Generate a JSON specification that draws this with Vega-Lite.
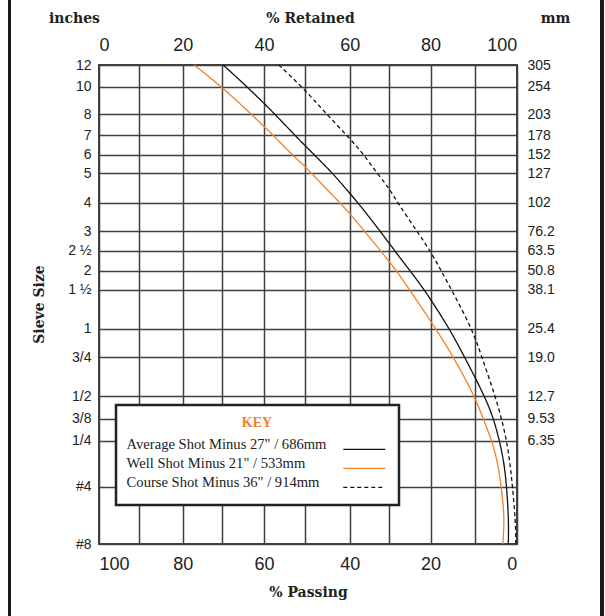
{
  "$schema": "https://vega.github.io/schema/vega-lite/v6.json",
  "width": 418,
  "height": 479,
  "autosize": {"type": "none"},
  "padding": {"left": 99, "top": 65, "right": 88, "bottom": 72},
  "background": "white",
  "title": {"text": "Sieve Size", "orient": "left", "anchor": "middle", "frame": "group", "font": "DejaVu Serif", "fontSize": 14, "fontWeight": "bold", "color": "#222", "offset": -39},
  "data": {"values": [
    {"s": "Well Shot Minus 21\" / 533mm", "mm": 305, "p": 77.1},
    {"s": "Well Shot Minus 21\" / 533mm", "mm": 252.4, "p": 70.0},
    {"s": "Well Shot Minus 21\" / 533mm", "mm": 203, "p": 63.0},
    {"s": "Well Shot Minus 21\" / 533mm", "mm": 187.7, "p": 60.0},
    {"s": "Well Shot Minus 21\" / 533mm", "mm": 178, "p": 57.8},
    {"s": "Well Shot Minus 21\" / 533mm", "mm": 152, "p": 53.2},
    {"s": "Well Shot Minus 21\" / 533mm", "mm": 135.4, "p": 50.0},
    {"s": "Well Shot Minus 21\" / 533mm", "mm": 127, "p": 48.6},
    {"s": "Well Shot Minus 21\" / 533mm", "mm": 102, "p": 42.2},
    {"s": "Well Shot Minus 21\" / 533mm", "mm": 91.5, "p": 40.0},
    {"s": "Well Shot Minus 21\" / 533mm", "mm": 76.2, "p": 36.3},
    {"s": "Well Shot Minus 21\" / 533mm", "mm": 63.5, "p": 32.2},
    {"s": "Well Shot Minus 21\" / 533mm", "mm": 56.2, "p": 30.0},
    {"s": "Well Shot Minus 21\" / 533mm", "mm": 50.8, "p": 28.3},
    {"s": "Well Shot Minus 21\" / 533mm", "mm": 38.1, "p": 25.1},
    {"s": "Well Shot Minus 21\" / 533mm", "mm": 25.4, "p": 18.8},
    {"s": "Well Shot Minus 21\" / 533mm", "mm": 19.0, "p": 14.8},
    {"s": "Well Shot Minus 21\" / 533mm", "mm": 12.7, "p": 10.0},
    {"s": "Well Shot Minus 21\" / 533mm", "mm": 9.53, "p": 8.0},
    {"s": "Well Shot Minus 21\" / 533mm", "mm": 6.35, "p": 5.9},
    {"s": "Well Shot Minus 21\" / 533mm", "mm": 5.51, "p": 4.5},
    {"s": "Well Shot Minus 21\" / 533mm", "mm": 4.75, "p": 3.7},
    {"s": "Well Shot Minus 21\" / 533mm", "mm": 3.44, "p": 3.0},
    {"s": "Well Shot Minus 21\" / 533mm", "mm": 2.8, "p": 3.1},
    {"s": "Well Shot Minus 21\" / 533mm", "mm": 2.36, "p": 3.3},
    {"s": "Average Shot Minus 27\" / 686mm", "mm": 305, "p": 69.8},
    {"s": "Average Shot Minus 27\" / 686mm", "mm": 254, "p": 64.1},
    {"s": "Average Shot Minus 27\" / 686mm", "mm": 203, "p": 57.3},
    {"s": "Average Shot Minus 27\" / 686mm", "mm": 178, "p": 52.6},
    {"s": "Average Shot Minus 27\" / 686mm", "mm": 152, "p": 48.0},
    {"s": "Average Shot Minus 27\" / 686mm", "mm": 127, "p": 43.8},
    {"s": "Average Shot Minus 27\" / 686mm", "mm": 109.5, "p": 40.0},
    {"s": "Average Shot Minus 27\" / 686mm", "mm": 102, "p": 37.9},
    {"s": "Average Shot Minus 27\" / 686mm", "mm": 76.2, "p": 32.3},
    {"s": "Average Shot Minus 27\" / 686mm", "mm": 63.5, "p": 28.7},
    {"s": "Average Shot Minus 27\" / 686mm", "mm": 50.8, "p": 25.0},
    {"s": "Average Shot Minus 27\" / 686mm", "mm": 38.1, "p": 21.5},
    {"s": "Average Shot Minus 27\" / 686mm", "mm": 25.4, "p": 15.7},
    {"s": "Average Shot Minus 27\" / 686mm", "mm": 19.0, "p": 12.3},
    {"s": "Average Shot Minus 27\" / 686mm", "mm": 12.7, "p": 7.6},
    {"s": "Average Shot Minus 27\" / 686mm", "mm": 9.53, "p": 5.5},
    {"s": "Average Shot Minus 27\" / 686mm", "mm": 6.35, "p": 4.1},
    {"s": "Average Shot Minus 27\" / 686mm", "mm": 5.51, "p": 3.0},
    {"s": "Average Shot Minus 27\" / 686mm", "mm": 4.75, "p": 2.4},
    {"s": "Average Shot Minus 27\" / 686mm", "mm": 3.16, "p": 1.9},
    {"s": "Average Shot Minus 27\" / 686mm", "mm": 2.36, "p": 2.0},
    {"s": "Course Shot Minus 36\" / 914mm", "mm": 305, "p": 56.4},
    {"s": "Course Shot Minus 36\" / 914mm", "mm": 246.9, "p": 50.0},
    {"s": "Course Shot Minus 36\" / 914mm", "mm": 203, "p": 45.2},
    {"s": "Course Shot Minus 36\" / 914mm", "mm": 173.4, "p": 40.0},
    {"s": "Course Shot Minus 36\" / 914mm", "mm": 152, "p": 36.4},
    {"s": "Course Shot Minus 36\" / 914mm", "mm": 127, "p": 33.1},
    {"s": "Course Shot Minus 36\" / 914mm", "mm": 113.6, "p": 30.0},
    {"s": "Course Shot Minus 36\" / 914mm", "mm": 102, "p": 28.0},
    {"s": "Course Shot Minus 36\" / 914mm", "mm": 76.2, "p": 23.3},
    {"s": "Course Shot Minus 36\" / 914mm", "mm": 63.5, "p": 20.1},
    {"s": "Course Shot Minus 36\" / 914mm", "mm": 50.8, "p": 17.6},
    {"s": "Course Shot Minus 36\" / 914mm", "mm": 38.1, "p": 15.3},
    {"s": "Course Shot Minus 36\" / 914mm", "mm": 25.4, "p": 10.6},
    {"s": "Course Shot Minus 36\" / 914mm", "mm": 19.0, "p": 8.3},
    {"s": "Course Shot Minus 36\" / 914mm", "mm": 12.7, "p": 5.1},
    {"s": "Course Shot Minus 36\" / 914mm", "mm": 9.53, "p": 3.6},
    {"s": "Course Shot Minus 36\" / 914mm", "mm": 6.35, "p": 2.4},
    {"s": "Course Shot Minus 36\" / 914mm", "mm": 5.51, "p": 1.6},
    {"s": "Course Shot Minus 36\" / 914mm", "mm": 4.75, "p": 1.0},
    {"s": "Course Shot Minus 36\" / 914mm", "mm": 3.16, "p": 0.3},
    {"s": "Course Shot Minus 36\" / 914mm", "mm": 2.36, "p": 0.2}
  ]},
  "layer": [
    {
      "mark": {"type": "line", "interpolate": "basis", "strokeWidth": 1.3},
      "encoding": {
        "x": {
          "field": "p", "type": "quantitative",
          "scale": {
            "domain": [0, 10, 20, 30, 40, 50, 60, 70, 80, 90, 100],
            "range": [417.7, 375.8, 331.6, 290.3, 250.7, 206.3, 165, 123.3, 83.7, 40, 0],
            "nice": false, "zero": false
          },
          "axis": {
            "orient": "bottom",
            "values": [0, 10, 20, 30, 40, 50, 60, 70, 80, 90, 100],
            "labelExpr": "datum.value % 20 === 0 ? datum.label : ''",
            "labelFlush": true, "labelOverlap": false,
            "labelFontSize": 18, "labelPadding": 11, "labelColor": "#222",
            "ticks": false, "domain": false,
            "grid": true, "gridColor": "#404040", "gridWidth": 1.5, "gridOpacity": 1,
            "title": "% Passing", "titleX": 209, "titleY": 48,
            "titleFont": "DejaVu Serif", "titleFontSize": 14, "titleFontWeight": "bold",
            "titleAlign": "center", "titleBaseline": "middle", "titleColor": "#222"
          }
        },
        "y": {
          "field": "mm", "type": "quantitative",
          "scale": {
            "type": "log", "nice": false,
            "domain": [2.36, 4.75, 6.35, 9.53, 12.7, 19.0, 25.4, 38.1, 50.8, 63.5, 76.2, 102, 127, 152, 178, 203, 254, 305],
            "range": [479, 421.5, 375.8, 353.9, 331.4, 292.2, 263.8, 224.6, 205.7, 185.8, 166.1, 137.8, 108.3, 89.8, 70, 49.3, 21.5, 0]
          },
          "axis": {
            "orient": "left",
            "values": [2.36, 4.75, 6.35, 9.53, 12.7, 19.0, 25.4, 38.1, 50.8, 63.5, 76.2, 102, 127, 152, 178, 203, 254, 305],
            "labelExpr": "datum.value > 280 ? '12' : datum.value > 230 ? '10' : datum.value > 190 ? '8' : datum.value > 165 ? '7' : datum.value > 140 ? '6' : datum.value > 115 ? '5' : datum.value > 90 ? '4' : datum.value > 70 ? '3' : datum.value > 57 ? '2 ½' : datum.value > 45 ? '2' : datum.value > 30 ? '1 ½' : datum.value > 22 ? '1' : datum.value > 15 ? '3/4' : datum.value > 11 ? '1/2' : datum.value > 8 ? '3/8' : datum.value > 5.5 ? '1/4' : datum.value > 3.5 ? '#4' : '#8'",
            "labelOverlap": false, "labelFlush": false,
            "labelFontSize": 14, "labelPadding": 8, "labelColor": "#222",
            "ticks": false, "domain": false,
            "grid": true, "gridColor": "#404040", "gridWidth": 1.5, "gridOpacity": 1,
            "title": "inches", "titleAngle": 0, "titleX": -25, "titleY": -47,
            "titleFont": "DejaVu Serif", "titleFontSize": 14, "titleFontWeight": "bold",
            "titleAlign": "center", "titleBaseline": "middle", "titleColor": "#222"
          }
        },
        "order": {"field": "mm", "type": "quantitative"},
        "color": {
          "field": "s", "type": "nominal",
          "scale": {
            "domain": ["Average Shot Minus 27\" / 686mm", "Well Shot Minus 21\" / 533mm", "Course Shot Minus 36\" / 914mm"],
            "range": ["#111111", "#f58025", "#111111"]
          },
          "legend": {
            "title": "KEY", "orient": "none", "legendX": 17, "legendY": 340, "direction": "vertical",
            "fillColor": "white", "strokeColor": "#222", "padding": 11,
            "titleColor": "#f58025", "titleFont": "Liberation Serif", "titleFontSize": 14, "titleFontWeight": "bold",
            "titleAnchor": "middle", "titlePadding": 8,
            "labelFont": "Liberation Serif", "labelFontSize": 14.6, "labelColor": "#222", "labelLimit": 400, "labelOffset": -15,
            "symbolType": "M 209 4 L 251 4 M 251 7.5 L 251 7.5", "symbolSize": 4, "symbolStrokeWidth": 1.3, "rowPadding": 0
          }
        },
        "strokeDash": {
          "field": "s", "type": "nominal",
          "scale": {
            "domain": ["Average Shot Minus 27\" / 686mm", "Well Shot Minus 21\" / 533mm", "Course Shot Minus 36\" / 914mm"],
            "range": [[1, 0], [1, 0], [4, 3]]
          },
          "legend": {
            "title": "KEY", "orient": "none", "legendX": 17, "legendY": 340, "direction": "vertical",
            "fillColor": "white", "strokeColor": "#222", "padding": 11,
            "titleColor": "#f58025", "titleFont": "Liberation Serif", "titleFontSize": 14, "titleFontWeight": "bold",
            "titleAnchor": "middle", "titlePadding": 8,
            "labelFont": "Liberation Serif", "labelFontSize": 14.6, "labelColor": "#222", "labelLimit": 400, "labelOffset": -15,
            "symbolType": "M 209 4 L 251 4 M 251 7.5 L 251 7.5", "symbolSize": 4, "symbolStrokeWidth": 1.3, "rowPadding": 0
          }
        }
      }
    },
    {
      "mark": {"type": "line", "opacity": 0},
      "encoding": {
        "x": {
          "field": "p", "type": "quantitative",
          "axis": {
            "orient": "top",
            "values": [0, 20, 40, 60, 80, 100],
            "labelExpr": "'' + (100 - datum.value)",
            "labelFlush": true, "labelOverlap": false,
            "labelFontSize": 18, "labelPadding": 11, "labelColor": "#222",
            "ticks": false, "domain": false, "grid": false,
            "title": "% Retained", "titleX": 211, "titleY": -47,
            "titleFont": "DejaVu Serif", "titleFontSize": 14, "titleFontWeight": "bold",
            "titleAlign": "center", "titleBaseline": "middle", "titleColor": "#222"
          }
        },
        "y": {
          "field": "mm", "type": "quantitative",
          "axis": {
            "orient": "right",
            "values": [6.35, 9.53, 12.7, 19.0, 25.4, 38.1, 50.8, 63.5, 76.2, 102, 127, 152, 178, 203, 254, 305],
            "labelExpr": "datum.value > 280 ? '305' : datum.value > 230 ? '254' : datum.value > 190 ? '203' : datum.value > 165 ? '178' : datum.value > 140 ? '152' : datum.value > 115 ? '127' : datum.value > 90 ? '102' : datum.value > 70 ? '76.2' : datum.value > 57 ? '63.5' : datum.value > 45 ? '50.8' : datum.value > 30 ? '38.1' : datum.value > 22 ? '25.4' : datum.value > 15 ? '19.0' : datum.value > 11 ? '12.7' : datum.value > 8 ? '9.53' : '6.35'",
            "labelOverlap": false, "labelFlush": false,
            "labelFontSize": 14, "labelPadding": 10, "labelColor": "#222",
            "ticks": false, "domain": false, "grid": false,
            "title": "mm", "titleAngle": 0, "titleX": 38, "titleY": -47,
            "titleFont": "DejaVu Serif", "titleFontSize": 14, "titleFontWeight": "bold",
            "titleAlign": "center", "titleBaseline": "middle", "titleColor": "#222"
          }
        },
        "detail": {"field": "s", "type": "nominal"},
        "order": {"field": "mm", "type": "quantitative"}
      }
    },
    {
      "mark": {"type": "rule", "color": "#1a1a1a", "strokeWidth": 2.7},
      "encoding": {
        "x": {"datum": 122.4, "type": "quantitative", "axis": null},
        "y": {"datum": 3000, "type": "quantitative", "axis": null},
        "y2": {"datum": 0.3}
      }
    },
    {
      "mark": {"type": "rule", "color": "#1a1a1a", "strokeWidth": 2.7},
      "encoding": {
        "x": {"datum": -20.4, "type": "quantitative", "axis": null},
        "y": {"datum": 3000, "type": "quantitative", "axis": null},
        "y2": {"datum": 0.3}
      }
    }
  ],
  "resolve": {"axis": {"x": "independent", "y": "independent"}},
  "config": {
    "font": "Liberation Sans",
    "view": {"stroke": "#404040", "strokeWidth": 2},
    "legend": {"strokeWidth": 2.5}
  }
}
